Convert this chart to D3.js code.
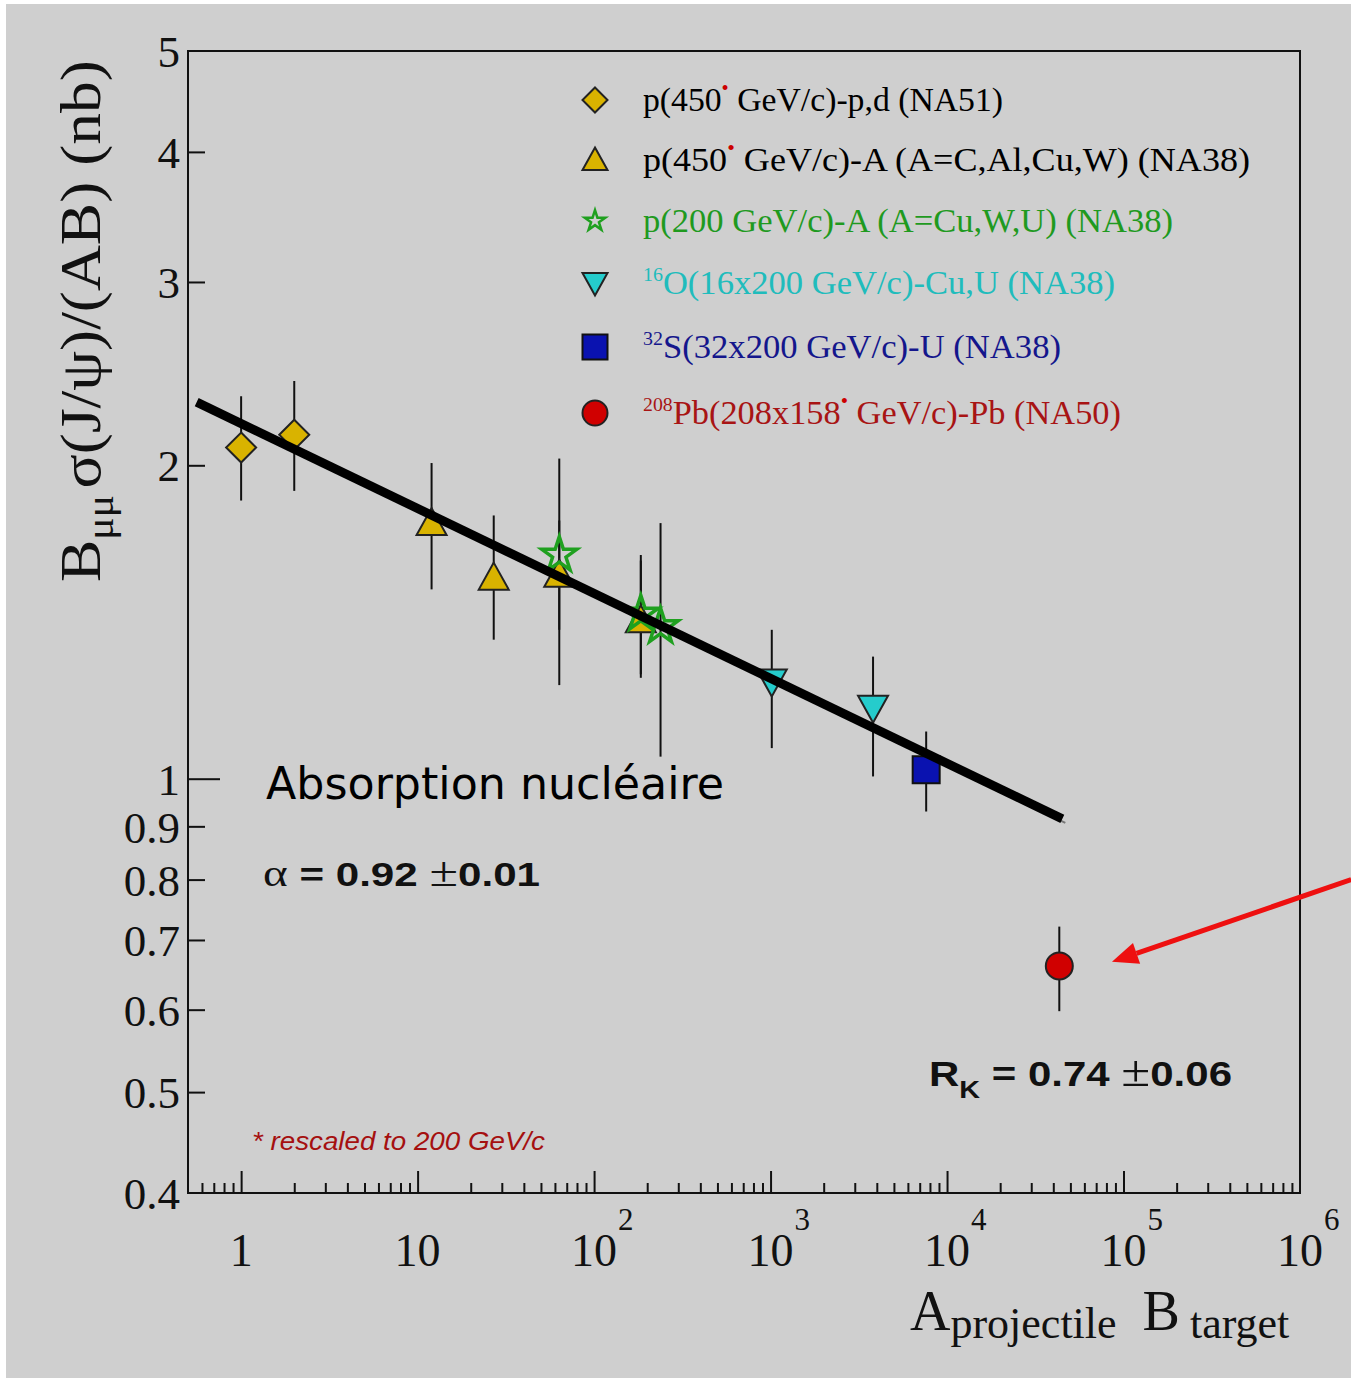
<!DOCTYPE html>
<html>
<head>
<meta charset="utf-8">
<script src="https://cdn.jsdelivr.net/npm/d3@7"></script>
<style>
  body { margin: 0; background: #ffffff; }
  svg { display: block; }
  .serif { font-family: "Liberation Serif", "Times New Roman", serif; }
</style>
</head>
<body>
<div id="chart"></div>
<script>
// data: x = A*B, y = B_mumu sigma / (AB) in nb
const na51 = [
  { x: 1, y: 2.08, lo: 1.85, hi: 2.33 },
  { x: 2, y: 2.14, lo: 1.89, hi: 2.41 },
];
const na38p450 = [
  { x: 12, y: 1.76, lo: 1.52, hi: 2.01 },
  { x: 27, y: 1.56, lo: 1.36, hi: 1.79 },
  { x: 63.5, y: 1.57, lo: 1.39, hi: 1.77 },
  { x: 184, y: 1.42, lo: 1.25, hi: 1.62 },
];
const na38p200 = [
  { x: 63.5, y: 1.64, lo: 1.23, hi: 2.03 },
  { x: 184, y: 1.44, lo: 1.26, hi: 1.64 },
  { x: 238, y: 1.40, lo: 1.05, hi: 1.76 },
];
const na38O = [
  { x: 1016, y: 1.24, lo: 1.07, hi: 1.39 },
  { x: 3808, y: 1.17, lo: 1.005, hi: 1.31 },
];
const na38S = [{ x: 7616, y: 1.02, lo: 0.93, hi: 1.11 }];
const na50Pb = [{ x: 43264, y: 0.661, lo: 0.598, hi: 0.721 }];

// nuclear absorption fit, end points
const fitLine = [[0.56, 2.30], [45000, 0.915]];
// red arrow (data coords), from outside the frame to next to the Pb point
const arrowFrom = [1.95e6, 0.80];
const arrowTo = [86000, 0.667];

const yTickLabels = [0.4, 0.5, 0.6, 0.7, 0.8, 0.9, 1, 2, 3, 4, 5];
const xDecades = [0, 1, 2, 3, 4, 5, 6];

const legendItems = [
  { shape: "diamond", color: "#000", parts: [["p(450", ""], ["•", "dot"], [" GeV/c)-p,d (NA51)", ""]] },
  { shape: "triangle", color: "#000", parts: [["p(450", ""], ["•", "dot"], [" GeV/c)-A (A=C,Al,Cu,W) (NA38)", ""]] },
  { shape: "star", color: "#1f9a1f", parts: [["p(200 GeV/c)-A (A=Cu,W,U) (NA38)", ""]] },
  { shape: "itriangle", color: "#20bcbc", parts: [["16", "sup"], ["O(16x200 GeV/c)-Cu,U (NA38)", ""]] },
  { shape: "square", color: "#14168c", parts: [["32", "sup"], ["S(32x200 GeV/c)-U (NA38)", ""]] },
  { shape: "circle", color: "#a81414", parts: [["208", "sup"], ["Pb(208x158", ""], ["•", "dot"], [" GeV/c)-Pb (NA50)", ""]] },
];
const legendRows = [100, 160, 221, 283, 347, 413];
const legendWidths = [360, 607, 530, 472, 418, 478];

const width = 1351;
const height = 1378;
const plot = { left: 188, right: 1300, top: 51, bottom: 1193 };

const gold = "#d9b300";
const markerStyle = {
  diamond: { fill: gold, stroke: "#222" },
  triangle: { fill: gold, stroke: "#222" },
  star: { fill: "none", stroke: "#1fa01f" },
  itriangle: { fill: "#25cccc", stroke: "#222" },
  square: { fill: "#0a12b0", stroke: "#111" },
  circle: { fill: "#d00000", stroke: "#222" },
};

function shapePath(shape, s) {
  const h = s / 2;
  if (shape === "diamond") return `M0,${-h}L${h},0L0,${h}L${-h},0Z`;
  if (shape === "triangle") return `M0,${-h}L${h},${h * 0.8}L${-h},${h * 0.8}Z`;
  if (shape === "itriangle") return `M${-h},${-h * 0.8}L${h},${-h * 0.8}L0,${h}Z`;
  if (shape === "square") return `M${-h},${-h}H${h}V${h}H${-h}Z`;
  if (shape === "circle") return d3.symbol(d3.symbolCircle, Math.PI * h * h)();
  if (shape === "star") return d3.symbol(d3.symbolStar, s * s * 0.33)();
}

const svg = d3.select("#chart").append("svg")
  .attr("width", width).attr("height", height);

svg.append("rect").attr("x", 6).attr("y", 4)
  .attr("width", width - 6).attr("height", height - 4)
  .attr("fill", "#cfcfcf");

const x = d3.scaleLog().domain([0.5, 1e6]).range([plot.left, plot.right]);
const y = d3.scaleLog().domain([0.4, 5]).range([plot.bottom, plot.top]);

// frame
svg.append("rect")
  .attr("x", plot.left).attr("y", plot.top)
  .attr("width", plot.right - plot.left).attr("height", plot.bottom - plot.top)
  .attr("fill", "none").attr("stroke", "#111").attr("stroke-width", 2);

// x ticks, pointing into the frame
const xMajor = xDecades.map((d) => Math.pow(10, d));
const xMinor = [];
[0.1, 1, 10, 100, 1000, 10000, 100000].forEach((dec) => {
  for (let k = 2; k <= 9; k++) {
    const v = dec * k;
    if (v > 0.5 && v < 1e6) xMinor.push(v);
  }
});
function styleAxis(g) {
  g.select(".domain").remove();
  g.selectAll("line").attr("stroke", "#111").attr("stroke-width", 2);
}
svg.append("g").attr("transform", `translate(0,${plot.bottom})`)
  .call(d3.axisBottom(x).tickValues(xMinor).tickSize(-10).tickFormat(""))
  .call(styleAxis);
svg.append("g").attr("transform", `translate(0,${plot.bottom})`)
  .call(d3.axisBottom(x).tickValues(xMajor.slice(0, 6)).tickSize(-22).tickFormat(""))
  .call(styleAxis);

// y ticks
svg.append("g").attr("transform", `translate(${plot.left},0)`)
  .call(d3.axisLeft(y).tickValues([0.5, 0.6, 0.7, 0.8, 0.9, 2, 3, 4]).tickSize(-17).tickFormat(""))
  .call(styleAxis);
svg.append("g").attr("transform", `translate(${plot.left},0)`)
  .call(d3.axisLeft(y).tickValues([1]).tickSize(-32).tickFormat(""))
  .call(styleAxis);

// y tick labels
svg.append("g").selectAll("text").data(yTickLabels).join("text")
  .attr("class", "serif")
  .attr("x", 180).attr("y", (d) => y(d)).attr("dy", "0.36em")
  .attr("text-anchor", "end").attr("font-size", 45).attr("fill", "#111")
  .text((d) => d);

// x tick labels
const xl = svg.append("g").attr("class", "serif").attr("fill", "#111");
xDecades.forEach((p) => {
  const cx = x(Math.pow(10, p));
  if (p === 0) {
    xl.append("text").attr("x", cx).attr("y", 1266).attr("text-anchor", "middle")
      .attr("font-size", 46).text("1");
  } else {
    xl.append("text").attr("x", cx).attr("y", 1266).attr("text-anchor", "middle")
      .attr("font-size", 46).text("10");
    if (p > 1) {
      xl.append("text").attr("x", cx + 24).attr("y", 1230)
        .attr("font-size", 31).text(p);
    }
  }
});

// axis titles
const xt = svg.append("text").attr("class", "serif").attr("fill", "#111")
  .attr("x", 910).attr("y", 1330);
xt.append("tspan").attr("font-size", 56).text("A");
xt.append("tspan").attr("font-size", 44).attr("dy", 8).text("projectile");
xt.append("tspan").attr("font-size", 56).attr("dy", -8).attr("dx", 26).text("B");
xt.append("tspan").attr("font-size", 44).attr("dy", 8).attr("dx", 10).text("target");

const yt = svg.append("text").attr("class", "serif").attr("fill", "#111")
  .attr("transform", "translate(100,582) rotate(-90)")
  .attr("textLength", 522).attr("lengthAdjust", "spacingAndGlyphs");
yt.append("tspan").attr("font-size", 58).text("B");
yt.append("tspan").attr("font-size", 38).attr("dy", 13).text("μμ");
yt.append("tspan").attr("font-size", 58).attr("dy", -13).attr("dx", 6).text("σ(J/ψ)/(AB) (nb)");

// error bars
const allSeries = [
  { shape: "diamond", data: na51, size: 30 },
  { shape: "triangle", data: na38p450, size: 30 },
  { shape: "itriangle", data: na38O, size: 30 },
  { shape: "square", data: na38S, size: 27 },
  { shape: "circle", data: na50Pb, size: 27 },
  { shape: "star", data: na38p200, size: 34 },
];
const bars = svg.append("g").attr("stroke", "#111").attr("stroke-width", 2);
allSeries.forEach((s) => {
  bars.selectAll(null).data(s.data).join("line")
    .attr("x1", (d) => x(d.x)).attr("x2", (d) => x(d.x))
    .attr("y1", (d) => y(d.hi)).attr("y2", (d) => y(d.lo));
});

// markers
allSeries.forEach((s) => {
  const st = markerStyle[s.shape];
  svg.append("g").selectAll("path").data(s.data).join("path")
    .attr("transform", (d) => `translate(${x(d.x)},${y(d.y)})`)
    .attr("d", shapePath(s.shape, s.size))
    .attr("fill", st.fill).attr("stroke", st.stroke)
    .attr("stroke-width", s.shape === "star" ? 3.5 : 2);
});

// fit line: faint shadow, then the thick black line
const fitPath = d3.line().x((d) => x(d[0])).y((d) => y(d[1]));
svg.append("path").datum(fitLine).attr("d", fitPath)
  .attr("transform", "translate(3,4)")
  .attr("stroke", "#777").attr("stroke-width", 2).attr("fill", "none");
svg.append("path").datum(fitLine).attr("d", fitPath)
  .attr("stroke", "#000").attr("stroke-width", 9).attr("fill", "none");

// legend
const lg = svg.append("g");
legendItems.forEach((item, i) => {
  const cy = legendRows[i];
  const st = markerStyle[item.shape];
  const msize = item.shape === "star" ? 20 : 25;
  lg.append("path")
    .attr("transform", `translate(595,${cy})`)
    .attr("d", shapePath(item.shape, msize))
    .attr("fill", st.fill).attr("stroke", st.stroke)
    .attr("stroke-width", item.shape === "star" ? 2.5 : 2);
  const t = lg.append("text").attr("class", "serif")
    .attr("x", 643).attr("y", cy + 11)
    .attr("font-size", 33).attr("fill", item.color)
    .attr("textLength", legendWidths[i]).attr("lengthAdjust", "spacingAndGlyphs");
  let shift = 0;
  item.parts.forEach(([txt, kind]) => {
    const ts = t.append("tspan").text(txt);
    if (kind === "sup") {
      ts.attr("font-size", 19).attr("dy", -13 - shift);
      shift = -13;
    } else if (kind === "dot") {
      ts.attr("font-size", 20).attr("fill", "#cc0000").attr("dy", -16 - shift);
      shift = -16;
    } else {
      ts.attr("dy", -shift);
      shift = 0;
    }
  });
});

// annotations
svg.append("text")
  .attr("x", 266).attr("y", 799)
  .attr("font-family", "'Comic Sans MS', 'DejaVu Sans', sans-serif")
  .attr("font-size", 44).attr("fill", "#000")
  .attr("textLength", 458).attr("lengthAdjust", "spacingAndGlyphs")
  .text("Absorption nucléaire");

const al = svg.append("text").attr("x", 263).attr("y", 886).attr("fill", "#111")
  .attr("textLength", 277).attr("lengthAdjust", "spacingAndGlyphs");
al.append("tspan").attr("font-family", "'Liberation Serif', serif").attr("font-size", 38).text("α ");
al.append("tspan").attr("font-family", "'Liberation Sans', Arial, sans-serif")
  .attr("font-weight", "bold").attr("font-size", 34).text("= 0.92  ");
al.append("tspan").attr("font-family", "'Liberation Serif', serif").attr("font-size", 42).text("±");
al.append("tspan").attr("font-family", "'Liberation Sans', Arial, sans-serif")
  .attr("font-weight", "bold").attr("font-size", 34).text("0.01");

const rk = svg.append("text").attr("x", 929).attr("y", 1086).attr("fill", "#111")
  .attr("font-family", "'Liberation Sans', Arial, sans-serif").attr("font-weight", "bold")
  .attr("textLength", 303).attr("lengthAdjust", "spacingAndGlyphs");
rk.append("tspan").attr("font-size", 35).text("R");
rk.append("tspan").attr("font-size", 24).attr("dy", 12).text("K");
rk.append("tspan").attr("font-size", 35).attr("dy", -12).text(" =  0.74 ");
rk.append("tspan").attr("font-family", "'Liberation Serif', serif").attr("font-weight", "normal")
  .attr("font-size", 44).text("±");
rk.append("tspan").attr("font-size", 35).text("0.06");

svg.append("text")
  .attr("x", 252).attr("y", 1150)
  .attr("font-family", "'Liberation Sans', Arial, sans-serif").attr("font-style", "italic")
  .attr("font-size", 25).attr("fill", "#a51010")
  .attr("textLength", 293).attr("lengthAdjust", "spacingAndGlyphs")
  .text("*  rescaled to 200 GeV/c");

// red arrow
const ax0 = x(arrowFrom[0]), ay0 = y(arrowFrom[1]);
const ax1 = x(arrowTo[0]), ay1 = y(arrowTo[1]);
const ang = Math.atan2(ay1 - ay0, ax1 - ax0);
const headLen = 26, headHalf = 11;
const bx = ax1 - headLen * Math.cos(ang), by = ay1 - headLen * Math.sin(ang);
svg.append("line")
  .attr("x1", ax0).attr("y1", ay0).attr("x2", bx).attr("y2", by)
  .attr("stroke", "#ee1010").attr("stroke-width", 5);
svg.append("path")
  .attr("d", `M${ax1},${ay1}L${bx + headHalf * Math.sin(ang)},${by - headHalf * Math.cos(ang)}L${bx - headHalf * Math.sin(ang)},${by + headHalf * Math.cos(ang)}Z`)
  .attr("fill", "#ee1010");
</script>
</body>
</html>
